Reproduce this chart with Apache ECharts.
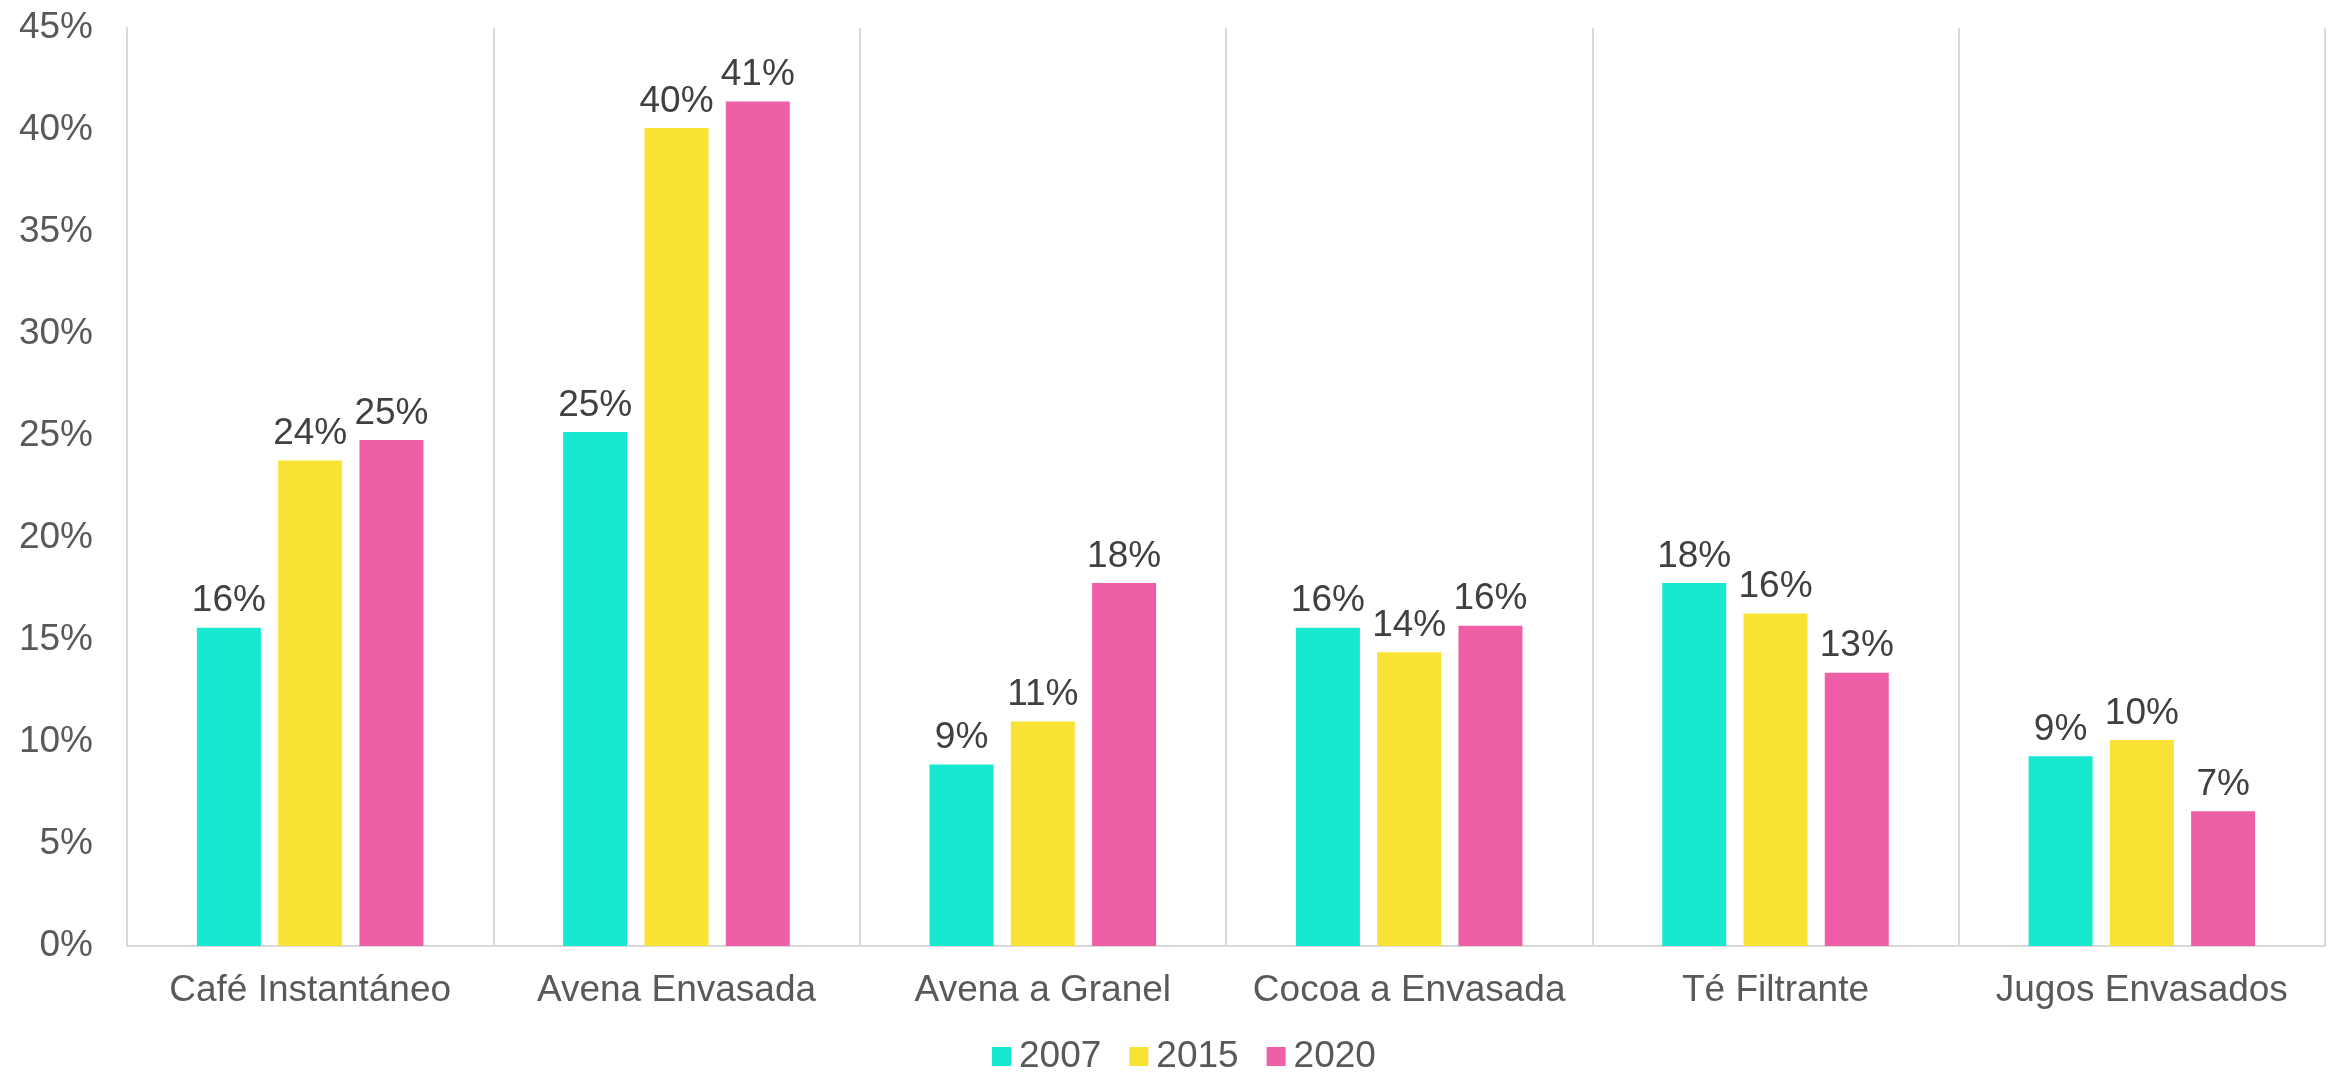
<!DOCTYPE html>
<html>
<head>
<meta charset="utf-8">
<script src="https://cdn.jsdelivr.net/npm/echarts@6/dist/echarts.min.js"></script>
<style>
html,body{margin:0;padding:0;background:#fff;}
#chart{width:2329px;height:1074px;}
</style>
</head>
<body>
<div id="chart"></div>
<script>
const categories = ['Café Instantáneo', 'Avena Envasada', 'Avena a Granel', 'Cocoa a Envasada', 'Té Filtrante', 'Jugos Envasados'];
const seriesNames = ['2007', '2015', '2020'];
const values2007 = [15.6, 25.2, 8.9, 15.6, 17.8, 9.3];
const values2015 = [23.8, 40.1, 11.0, 14.4, 16.3, 10.1];
const values2020 = [24.8, 41.4, 17.8, 15.7, 13.4, 6.6];
const colors = ['#17E8D0', '#F8E334', '#EF5FA7'];
const yTicks = [0, 5, 10, 15, 20, 25, 30, 35, 40, 45];

const font = 'Liberation Sans, Arial, sans-serif';
const chart = echarts.init(document.getElementById('chart'));

function mk(name, data, color) {
  return {
    name: name,
    type: 'bar',
    data: data,
    barWidth: 64,
    barGap: '27%',
    itemStyle: { color: color },
    label: {
      show: true,
      position: 'top',
      distance: 8,
      formatter: p => Math.round(p.value) + '%',
      fontSize: 37,
      fontFamily: font,
      color: '#404040'
    }
  };
}

chart.setOption({
  animation: false,
  backgroundColor: '#ffffff',
  color: colors,
  grid: { left: 127, right: 4, top: 28, bottom: 128, containLabel: false },
  legend: {
    data: seriesNames,
    left: 992,
    top: 1038,
    padding: 0,
    itemWidth: 19,
    itemHeight: 19,
    itemGap: 28,
    icon: 'rect',
    textStyle: { fontSize: 37, fontFamily: font, color: '#595959', padding: [0, 0, 0, 3] }
  },
  xAxis: {
    type: 'category',
    data: categories,
    axisLine: { show: true, lineStyle: { color: '#D9D9D9', width: 2 } },
    axisTick: { show: false },
    splitLine: { show: true, interval: 0, lineStyle: { color: '#D9D9D9', width: 2 } },
    axisLabel: { interval: 0, fontSize: 37, fontFamily: font, color: '#595959', margin: 26 }
  },
  yAxis: {
    type: 'value',
    min: yTicks[0],
    max: yTicks[yTicks.length - 1],
    interval: 5,
    axisLine: { show: true, lineStyle: { color: '#D9D9D9', width: 2 } },
    axisTick: { show: false },
    splitLine: { show: false },
    axisLabel: { formatter: v => v + '%', fontSize: 37, fontFamily: font, color: '#595959', margin: 34 }
  },
  series: [
    mk(seriesNames[0], values2007, colors[0]),
    mk(seriesNames[1], values2015, colors[1]),
    mk(seriesNames[2], values2020, colors[2])
  ]
});
</script>
</body>
</html>
